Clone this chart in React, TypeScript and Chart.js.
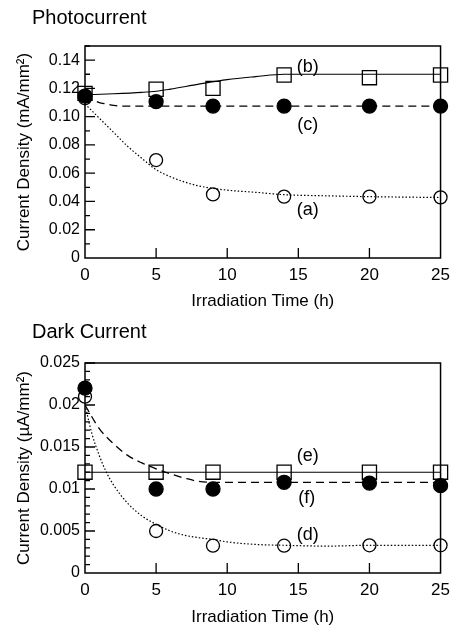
import React, { useEffect, useRef } from 'react';
import { Chart, registerables } from 'chart.js';
Chart.register(...registerables);

const FONT = "'Liberation Sans', Arial, sans-serif";

// ---------- data ----------
const timeH = [0, 5, 9, 14, 20, 25];

// Photocurrent (mA/mm2)
const photoA = [0.113, 0.0693, 0.045, 0.0434, 0.0434, 0.0429];
const photoB = [0.1165, 0.1194, 0.12, 0.1295, 0.1276, 0.1295];
const photoC = [0.1146, 0.1106, 0.1075, 0.1075, 0.1075, 0.1075];

const fitTimeA = [0, 1, 2, 3, 4, 5, 6, 7, 8, 9, 10, 12, 14, 17, 20, 25];
const photoFitA = [0.109, 0.099, 0.089, 0.079, 0.0705, 0.0625, 0.0575, 0.0538, 0.051, 0.0493, 0.048, 0.0465, 0.0448, 0.044, 0.0434, 0.0428];
const fitTimeB = [0, 2, 4, 5, 6, 8, 10, 12, 14, 25];
const photoFitB = [0.1155, 0.1162, 0.1172, 0.118, 0.1195, 0.123, 0.1262, 0.1283, 0.13, 0.13];
const fitTimeC = [0, 0.5, 1, 1.5, 2, 2.5, 25];
const photoFitC = [0.1145, 0.112, 0.11, 0.109, 0.108, 0.1075, 0.1075];

// Dark current (uA/mm2)
const darkD = [0.021, 0.005, 0.00325, 0.00325, 0.0033, 0.0033];
const darkE = [0.012, 0.012, 0.012, 0.012, 0.012, 0.012];
const darkF = [0.022, 0.01, 0.01, 0.0108, 0.0107, 0.0104];

const fitTimeD = [0, 0.5, 1, 1.5, 2, 3, 4, 5, 6, 7, 8, 9, 10, 12, 14, 17, 20, 25];
const darkFitD = [0.02, 0.0165, 0.014, 0.012, 0.0105, 0.0083, 0.0068, 0.0058, 0.005, 0.0045, 0.0042, 0.004, 0.0037, 0.0034, 0.0033, 0.0032, 0.0033, 0.0033];
const fitTimeE = [0, 25];
const darkFitE = [0.012, 0.012];
const fitTimeF = [0, 1, 2, 3, 4, 5, 6, 7, 8, 9, 25];
const darkFitF = [0.02, 0.0172, 0.0154, 0.014, 0.0131, 0.0124, 0.0118, 0.0113, 0.0109, 0.0108, 0.0108];

// ticks
const xTicks = [0, 5, 10, 15, 20, 25];
const photoYTicks = [0, 0.02, 0.04, 0.06, 0.08, 0.1, 0.12, 0.14];
const photoYTickLabels = ['0', '0.02', '0.04', '0.06', '0.08', '0.10', '0.12', '0.14'];
const darkYTicks = [0, 0.005, 0.01, 0.015, 0.02, 0.025];
const darkYTickLabels = ['0', '0.005', '0.01', '0.015', '0.02', '0.025'];

// curve labels
const photoLabels = [
  { text: '(b)', x: 15.66, y: 0.135 },
  { text: '(c)', x: 15.66, y: 0.094 },
  { text: '(a)', x: 15.66, y: 0.034 },
];
const darkLabels = [
  { text: '(e)', x: 15.66, y: 0.0139 },
  { text: '(f)', x: 15.6, y: 0.0089 },
  { text: '(d)', x: 15.66, y: 0.0045 },
];

const pts = (xs: number[], ys: number[]) => xs.map((x, i) => ({ x, y: ys[i] }));

const markerSet = (xs: number[], ys: number[], style: string, filled: boolean, order: number) => ({
  data: pts(xs, ys),
  showLine: false,
  pointStyle: style,
  pointRadius: style === 'rect' ? 10 : filled ? 7 : 6.5,
  pointBorderColor: '#000',
  pointBackgroundColor: filled ? '#000' : 'rgba(0,0,0,0)',
  pointBorderWidth: 1.3,
  clip: false,
  order,
});

const lineSet = (xs: number[], ys: number[], dash: number[], width: number) => ({
  data: pts(xs, ys),
  showLine: true,
  pointRadius: 0,
  borderColor: '#000',
  borderWidth: width,
  borderDash: dash,
  cubicInterpolationMode: 'monotone',
  fill: false,
  order: 10,
});

const framePlugin = (minorDiv: number, labels: { text: string; x: number; y: number }[]) => ({
  id: 'frameTicks',
  afterDatasetsDraw(chart: any) {
    const { ctx, chartArea: a, scales } = chart;
    const xs = scales.x;
    const ys = scales.y;
    ctx.save();
    ctx.strokeStyle = '#000';
    ctx.lineWidth = 1.5;
    ctx.strokeRect(a.left, a.top, a.right - a.left, a.bottom - a.top);
    ctx.lineWidth = 1.3;
    ctx.beginPath();
    // y ticks inward
    const yv = ys.ticks.map((t: any) => t.value);
    for (let i = 0; i < yv.length; i++) {
      const p = ys.getPixelForValue(yv[i]);
      if (i > 0) {
        ctx.moveTo(a.left, p);
        ctx.lineTo(a.left + 10, p);
      }
      const step = i < yv.length - 1 ? yv[i + 1] - yv[i] : yv[1] - yv[0];
      for (let k = 1; k < minorDiv; k++) {
        const v = yv[i] + (step * k) / minorDiv;
        if (v > ys.max + 1e-9) break;
        const q = ys.getPixelForValue(v);
        ctx.moveTo(a.left, q);
        ctx.lineTo(a.left + 5, q);
      }
    }
    // x ticks inward
    xs.ticks.forEach((t: any, i: number) => {
      if (i === 0 || i === xs.ticks.length - 1) return;
      const p = xs.getPixelForValue(t.value);
      ctx.moveTo(p, a.bottom);
      ctx.lineTo(p, a.bottom - 10);
    });
    ctx.stroke();
    // labels
    ctx.fillStyle = '#000';
    ctx.font = `18px ${FONT}`;
    ctx.textAlign = 'center';
    ctx.textBaseline = 'middle';
    labels.forEach((l) => {
      ctx.fillText(l.text, xs.getPixelForValue(l.x), ys.getPixelForValue(l.y));
    });
    ctx.restore();
  },
});

type PanelProps = {
  top: number;
  height: number;
  areaTop: number;
  datasets: any[];
  yMax: number;
  yTicks: number[];
  yLabels: string[];
  yTitle: string;
  minorDiv: number;
  labels: { text: string; x: number; y: number }[];
};

function Panel(p: PanelProps) {
  const ref = useRef<HTMLCanvasElement>(null);
  useEffect(() => {
    if (!ref.current) return;
    const chart = new Chart(ref.current, {
      type: 'scatter',
      data: { datasets: p.datasets },
      options: {
        responsive: false,
        animation: false,
        events: [],
        layout: { padding: { top: p.areaTop, right: 8, left: 0, bottom: 0 } },
        plugins: { legend: { display: false }, tooltip: { enabled: false }, title: { display: false } },
        scales: {
          x: {
            type: 'linear',
            min: 0,
            max: 25,
            grid: { display: false, drawTicks: false },
            border: { display: false },
            afterBuildTicks: (s: any) => {
              s.ticks = xTicks.map((v) => ({ value: v }));
            },
            afterFit: (s: any) => {
              s.height = p.height - 258;
            },
            ticks: {
              padding: 7,
              color: '#000',
              font: { family: FONT, size: 17 },
              maxRotation: 0,
              autoSkip: false,
              callback: (v: any) => String(v),
            },
            title: {
              display: true,
              text: 'Irradiation Time (h)',
              color: '#000',
              font: { family: FONT, size: 17 },
              padding: { top: 0, bottom: 3 },
            },
          },
          y: {
            type: 'linear',
            min: 0,
            max: p.yMax,
            grid: { display: false, drawTicks: false },
            border: { display: false },
            afterBuildTicks: (s: any) => {
              s.ticks = p.yTicks.map((v) => ({ value: v }));
            },
            afterFit: (s: any) => {
              s.width = 85;
            },
            ticks: {
              padding: 5,
              color: '#000',
              font: { family: FONT, size: 16 },
              autoSkip: false,
              callback: (_v: any, i: number) => p.yLabels[i],
            },
            title: {
              display: true,
              text: p.yTitle,
              color: '#000',
              font: { family: FONT, size: 17 },
              padding: { top: 14, bottom: 0 },
            },
          },
        },
      } as any,
      plugins: [framePlugin(p.minorDiv, p.labels)],
    });
    return () => chart.destroy();
  }, []);
  return (
    <canvas
      ref={ref}
      width={457}
      height={p.height}
      style={{ position: 'absolute', left: 0, top: p.top, width: 457, height: p.height, display: 'block' }}
    />
  );
}

export default function App() {
  const photoSets = [
    lineSet(fitTimeA, photoFitA, [1.5, 2], 1.2),
    lineSet(fitTimeB, photoFitB, [], 1.1),
    lineSet(fitTimeC, photoFitC, [8, 5], 1.3),
    markerSet(timeH, photoA, 'circle', false, 3),
    markerSet(timeH, photoB, 'rect', false, 2),
    markerSet(timeH, photoC, 'circle', true, 1),
  ];
  const darkSets = [
    lineSet(fitTimeD, darkFitD, [1.5, 2], 1.2),
    lineSet(fitTimeE, darkFitE, [], 1.1),
    lineSet(fitTimeF, darkFitF, [8, 5], 1.3),
    markerSet(timeH, darkD, 'circle', false, 3),
    markerSet(timeH, darkE, 'rect', false, 2),
    markerSet(timeH, darkF, 'circle', true, 1),
  ];
  const titleStyle: React.CSSProperties = {
    position: 'absolute',
    left: 32,
    fontFamily: FONT,
    fontSize: 20,
    lineHeight: '24px',
    color: '#000',
    whiteSpace: 'nowrap',
  };
  return (
    <div style={{ position: 'fixed', left: 0, top: 0, width: 457, height: 631, background: '#fff', overflow: 'hidden' }}>
      <Panel
        top={0}
        height={315}
        areaTop={46}
        datasets={photoSets}
        yMax={0.15}
        yTicks={photoYTicks}
        yLabels={photoYTickLabels}
        yTitle="Current Density (mA/mm²)"
        minorDiv={2}
        labels={photoLabels}
      />
      <Panel
        top={315}
        height={316}
        areaTop={48}
        datasets={darkSets}
        yMax={0.025}
        yTicks={darkYTicks}
        yLabels={darkYTickLabels}
        yTitle="Current Density (µA/mm²)"
        minorDiv={5}
        labels={darkLabels}
      />
      <div style={{ ...titleStyle, top: 4.5 }}>Photocurrent</div>
      <div style={{ ...titleStyle, top: 319 }}>Dark Current</div>
    </div>
  );
}
